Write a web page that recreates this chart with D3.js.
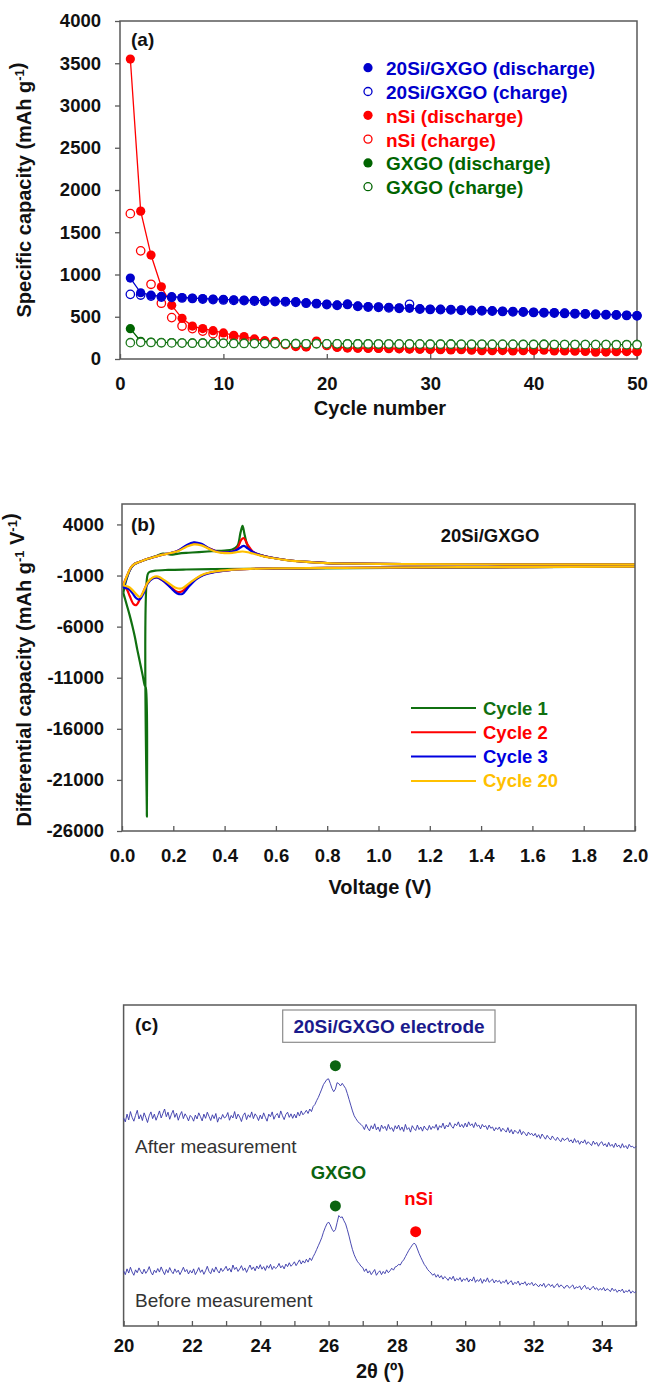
<!DOCTYPE html>
<html>
<head>
<meta charset="utf-8">
<script src="https://cdn.jsdelivr.net/npm/d3@7"></script>
<style>
    body { margin: 0; background: #fff; }
    svg { display: block; }
</style>
</head>
<body>
<svg id="fig"></svg>
<script>
// ---------- panel (a): capacity vs cycle ----------
const cycleNumbers = [1,2,3,4,5,6,7,8,9,10,11,12,13,14,15,16,17,18,19,20,21,22,23,24,25,
    26,27,28,29,30,31,32,33,34,35,36,37,38,39,40,41,42,43,44,45,46,47,48,49,50];
const siGxgoDischarge = [958,784,755,740,738,728,722,715,710,706,700,697,694,690,686,683,678,667,660,650,
    640,652,628,620,618,611,605,600,596,592,590,587,582,578,575,572,568,564,560,556,
    552,549,545,541,537,532,528,524,520,515];
const siGxgoCharge = [765,757,745,733,730,722,716,709,703,698,693,690,686,683,679,676,671,660,654,644,
    634,645,622,614,612,605,600,648,590,586,584,581,576,572,569,566,562,558,554,550,
    546,543,539,535,531,527,523,519,515,511];
const nSiDischarge = [3550,1750,1230,855,635,481,390,360,335,308,280,265,237,217,205,178,158,142,213,170,
    140,130,128,126,125,122,120,118,116,112,110,108,110,105,98,98,100,96,98,100,
    104,96,95,92,90,80,82,86,88,86];
const nSiCharge = [1720,1280,884,660,490,390,360,330,300,257,264,233,225,205,205,170,150,148,200,160,
    140,135,132,130,130,128,125,122,120,120,118,116,118,115,112,110,112,108,110,112,
    158,108,105,104,102,100,98,100,98,96];
const gxgoDischarge = [359,210,200,196,194,192,190,191,188,189,186,187,185,185,184,183,184,182,183,181,
    181,180,181,180,179,179,178,179,178,177,177,178,176,176,177,175,175,176,174,174,
    175,173,173,174,172,172,173,171,171,172];
const gxgoCharge = [193,197,195,192,190,188,187,187,185,185,184,184,183,182,182,181,181,180,180,179,
    179,178,178,178,177,177,176,176,176,175,175,175,174,174,174,173,173,173,172,172,
    172,171,171,171,170,170,170,169,169,169];
const capacityTicks = [0,500,1000,1500,2000,2500,3000,3500,4000];
const cycleTicks = [0,10,20,30,40,50];
const capacityLegend = ['20Si/GXGO (discharge)', '20Si/GXGO (charge)', 'nSi (discharge)',
    'nSi (charge)', 'GXGO (discharge)', 'GXGO (charge)'];

// ---------- panel (b): dQ/dV, [voltage, value] ----------
const cycle1Discharge = [[2.0,-120],[1.6,-180],[1.2,-230],[0.9,-280],[0.7,-320],[0.5,-350],[0.35,-380],
    [0.25,-410],[0.18,-450],[0.13,-520],[0.108,-640],[0.1,-900],[0.097,-24600],[0.093,-12000],
    [0.088,-11700],[0.08,-10700],[0.07,-9500],[0.06,-8300],[0.05,-7000],[0.04,-5900],[0.03,-4900],
    [0.02,-4000],[0.012,-3300],[0.005,-2700]];
const cycle1Charge = [[0.005,-2700],[0.015,-1600],[0.03,-500],[0.045,50],[0.07,350],[0.1,620],[0.13,880],
    [0.16,1150],[0.19,1050],[0.22,1150],[0.26,1230],[0.3,1300],[0.35,1380],[0.4,1450],[0.43,1550],
    [0.45,1900],[0.462,3200],[0.47,3850],[0.478,3000],[0.49,1900],[0.51,1300],[0.54,1000],[0.58,760],
    [0.64,520],[0.72,330],[0.8,220],[0.9,160],[1.1,120],[1.5,100],[2.0,90]];
const cycle2Discharge = [[2.0,-120],[1.5,-170],[1.0,-220],[0.8,-260],[0.6,-300],[0.5,-360],[0.42,-470],
    [0.36,-650],[0.32,-900],[0.29,-1300],[0.26,-1950],[0.235,-2550],[0.215,-2600],[0.19,-2150],
    [0.165,-1600],[0.14,-1200],[0.12,-1250],[0.1,-1700],[0.085,-2500],[0.07,-3300],[0.055,-3900],
    [0.045,-3800],[0.03,-3000],[0.018,-2300],[0.005,-1900]];
const cycle2Charge = [[0.005,-1900],[0.02,-1000],[0.035,-200],[0.05,150],[0.075,400],[0.1,640],[0.13,850],
    [0.16,1050],[0.19,1200],[0.22,1450],[0.25,1900],[0.28,2200],[0.31,2050],[0.34,1650],[0.37,1350],
    [0.4,1250],[0.43,1350],[0.45,1700],[0.465,2500],[0.475,2650],[0.49,2000],[0.51,1350],[0.54,1000],
    [0.58,760],[0.64,520],[0.72,330],[0.8,220],[0.9,160],[1.1,120],[1.5,100],[2.0,90]];
const cycle3Discharge = [[2.0,-120],[1.5,-170],[1.0,-220],[0.8,-260],[0.6,-300],[0.5,-360],[0.42,-470],
    [0.36,-660],[0.32,-920],[0.29,-1350],[0.26,-2100],[0.235,-2800],[0.215,-2750],[0.19,-2200],
    [0.165,-1600],[0.14,-1200],[0.12,-1300],[0.1,-1800],[0.085,-2700],[0.068,-3350],[0.055,-3200],
    [0.04,-2700],[0.025,-2300],[0.01,-2200],[0.005,-2200]];
const cycle3Charge = [[0.005,-2200],[0.02,-1100],[0.035,-250],[0.05,150],[0.075,400],[0.1,640],[0.13,850],
    [0.16,1050],[0.19,1200],[0.22,1450],[0.25,1950],[0.28,2250],[0.31,2100],[0.34,1650],[0.37,1350],
    [0.4,1250],[0.43,1350],[0.45,1550],[0.465,1800],[0.475,1900],[0.49,1650],[0.51,1300],[0.54,1000],
    [0.58,760],[0.64,520],[0.72,330],[0.8,220],[0.9,160],[1.1,120],[1.5,100],[2.0,90]];
const cycle20Discharge = [[2.0,-120],[1.5,-170],[1.0,-220],[0.8,-260],[0.6,-300],[0.5,-350],[0.42,-450],
    [0.36,-620],[0.32,-850],[0.29,-1250],[0.26,-1800],[0.235,-2250],[0.215,-2250],[0.19,-1900],
    [0.165,-1450],[0.14,-1100],[0.12,-1200],[0.1,-1700],[0.085,-2500],[0.07,-3100],[0.058,-2900],
    [0.04,-2400],[0.025,-2100],[0.01,-2000],[0.005,-2000]];
const cycle20Charge = [[0.005,-2000],[0.02,-1000],[0.035,-200],[0.05,150],[0.075,400],[0.1,640],[0.13,850],
    [0.16,1050],[0.19,1200],[0.22,1400],[0.25,1800],[0.28,2050],[0.31,1950],[0.34,1600],[0.37,1300],
    [0.4,1200],[0.43,1220],[0.45,1300],[0.47,1350],[0.49,1280],[0.51,1150],[0.54,950],
    [0.58,740],[0.64,510],[0.72,330],[0.8,220],[0.9,160],[1.1,120],[1.5,100],[2.0,90]];
const voltageTicks = [0.0,0.2,0.4,0.6,0.8,1.0,1.2,1.4,1.6,1.8,2.0];
const dqdvTicks = [-26000,-21000,-16000,-11000,-6000,-1000,4000];
const cycleLegend = ['Cycle 1', 'Cycle 2', 'Cycle 3', 'Cycle 20'];

// ---------- panel (c): XRD, 2theta 20.00 .. 35.00 step 0.05 (one row per degree) ----------
const twoThetaStart = 20.0;
const twoThetaStep = 0.05;
const xrdAfter = [
    648,636,660,642,668,650,638,656,672,645,658,640,664,650,634,655,667,646,660,641,
    655,670,648,662,676,652,666,644,660,672,650,663,641,657,668,646,661,652,639,656,
    650,638,657,645,664,652,639,660,647,666,653,640,658,646,662,635,650,644,659,648,
    652,665,641,656,648,668,645,660,651,637,656,664,643,658,650,667,646,661,653,640,
    657,645,664,650,638,660,652,667,644,656,662,648,670,655,643,659,666,650,661,647,
    660,648,666,654,670,658,664,672,662,676,668,684,690,702,712,725,738,752,760,768,
    770,756,740,730,738,758,755,748,756,748,740,724,706,688,670,655,646,638,632,628,
    622,612,628,616,608,624,614,630,611,620,606,626,615,622,609,628,613,618,606,624,
    614,626,610,620,606,628,612,618,604,624,615,609,626,612,620,607,623,614,610,625,
    612,622,616,628,610,624,618,632,614,626,620,634,622,616,630,624,636,620,628,618,
    632,620,636,624,630,618,634,622,626,614,628,620,624,612,626,616,620,608,618,612,
    620,606,616,610,604,618,602,612,598,610,604,600,612,596,606,600,592,604,596,600,
    592,600,588,596,584,598,590,582,594,586,580,592,584,578,588,580,574,586,578,582,
    586,574,580,570,584,572,578,566,576,570,580,566,574,568,562,576,566,572,560,570,
    574,562,568,558,572,560,566,556,570,558,564,554,568,556,562,552,566,558,560,554,
    560];
const xrdBefore = [
    172,160,178,165,183,168,158,175,166,181,170,162,177,164,172,185,168,159,174,166,
    179,168,184,171,160,176,166,182,170,163,178,167,174,160,171,183,169,176,162,173,
    165,178,160,170,182,167,175,161,172,186,170,163,179,168,184,172,165,180,170,177,
    186,172,180,168,190,176,183,170,178,188,173,181,167,179,190,176,184,172,187,178,
    191,177,185,173,188,180,192,176,186,179,184,195,181,188,178,193,185,197,186,192,
    200,188,197,206,193,203,196,208,199,212,204,216,226,238,250,262,275,292,306,318,
    324,315,302,294,300,322,344,338,340,328,318,300,280,258,238,222,210,200,194,186,
    182,170,178,165,172,160,168,176,158,166,172,160,170,163,175,166,172,180,174,184,
    186,192,190,200,206,216,226,236,244,252,258,254,240,226,214,203,192,185,176,170,
    165,158,163,152,160,150,157,146,154,149,142,152,145,155,140,148,143,151,138,147,
    142,150,137,146,140,153,136,144,139,148,133,145,138,150,136,141,146,134,143,137,
    142,132,139,135,144,130,137,141,128,136,132,140,127,134,131,138,126,133,129,136,
    125,132,128,122,130,124,133,120,127,131,123,129,119,126,132,121,128,124,117,125,
    126,118,123,128,115,122,119,125,113,121,127,116,120,112,118,124,114,119,111,117,
    112,120,109,116,113,107,118,110,114,105,112,108,115,103,110,106,113,102,109,104,
    107];
const twoThetaTicks = [20,21,22,23,24,25,26,27,28,29,30,31,32,33,34,35];
const twoThetaLabels = [20,22,24,26,28,30,32,34];
const xrdPeaks = [
    { label: '', pos: 26.2, level: 811, color: '#0b6410' },
    { label: 'GXGO', pos: 26.2, level: 374, color: '#0b6410' },
    { label: 'nSi', pos: 28.55, level: 294, color: '#ff0000' }
];

(function () {
    const FONT = '"Liberation Sans", Arial, sans-serif';
    const AXIS = '#595959';

    const svg = d3.select('#fig')
        .attr('width', 652)
        .attr('height', 1386);

    svg.append('rect')
        .attr('width', 652)
        .attr('height', 1386)
        .attr('fill', '#fff');

    function styleAxis(g) {
        g.select('.domain').remove();
        g.selectAll('.tick line')
            .attr('stroke', AXIS)
            .attr('stroke-width', 1.3);
        g.selectAll('.tick text')
            .attr('font-family', FONT)
            .attr('font-weight', 'bold')
            .attr('font-size', 18.5)
            .attr('fill', '#111');
    }

    function drawBox(x, y) {
        svg.append('rect')
            .attr('x', x.range()[0])
            .attr('y', y.range()[1])
            .attr('width', x.range()[1] - x.range()[0])
            .attr('height', y.range()[0] - y.range()[1])
            .attr('fill', 'none')
            .attr('stroke', AXIS)
            .attr('stroke-width', 1.5);
    }

    function addText(x, y, txt, opts) {
        return svg.append('text')
            .attr('x', x)
            .attr('y', y)
            .attr('font-family', FONT)
            .attr('font-weight', opts.weight || 'bold')
            .attr('font-size', opts.size || 18)
            .attr('fill', opts.color || '#111')
            .attr('text-anchor', opts.anchor || 'start')
            .text(txt);
    }

    function rotatedTitle(x, y, parts) {
        const t = svg.append('text')
            .attr('transform', `translate(${x},${y}) rotate(-90)`)
            .attr('text-anchor', 'middle')
            .attr('font-family', FONT)
            .attr('font-weight', 'bold')
            .attr('font-size', 20)
            .attr('fill', '#111');
        parts.forEach(p => {
            if (p.sup) {
                t.append('tspan').attr('dy', -7).attr('font-size', 13).text(p.sup);
                t.append('tspan').attr('dy', 7).text('');
            } else {
                t.append('tspan').text(p.text);
            }
        });
    }

    // ================= panel (a) =================
    function drawPanelA() {
        const x = d3.scaleLinear().domain([0, 50]).range([120, 637]);
        const y = d3.scaleLinear().domain([0, 4000]).range([359, 21]);

        svg.append('g')
            .attr('transform', 'translate(0,359)')
            .call(d3.axisBottom(x).tickValues(cycleTicks).tickFormat(d => String(d))
                .tickSizeInner(-5).tickSizeOuter(0).tickPadding(18))
            .call(styleAxis);
        svg.append('g')
            .attr('transform', 'translate(120,0)')
            .call(d3.axisLeft(y).tickValues(capacityTicks).tickFormat(d => String(d))
                .tickSizeInner(5).tickSizeOuter(0).tickPadding(14))
            .call(styleAxis);
        drawBox(x, y);

        const series = [
            { values: nSiCharge, color: '#ff0000', open: true },
            { values: nSiDischarge, color: '#ff0000', open: false, line: true },
            { values: gxgoDischarge, color: '#006400', open: false, line: true },
            { values: gxgoCharge, color: '#1e7a1e', open: true },
            { values: siGxgoCharge, color: '#0000cc', open: true },
            { values: siGxgoDischarge, color: '#0000cc', open: false, line: true }
        ];

        const line = d3.line()
            .x((d, i) => x(cycleNumbers[i]))
            .y(d => y(d));

        series.filter(s => s.line).forEach(s => {
            svg.append('path')
                .datum(s.values)
                .attr('d', line)
                .attr('fill', 'none')
                .attr('stroke', s.color)
                .attr('stroke-width', 1.3);
        });

        series.forEach(s => {
            svg.append('g')
                .selectAll('circle')
                .data(s.values)
                .join('circle')
                .attr('cx', (d, i) => x(cycleNumbers[i]))
                .attr('cy', d => y(d))
                .attr('r', s.open ? 4.2 : 4.6)
                .attr('fill', s.open ? '#fff' : s.color)
                .attr('stroke', s.color)
                .attr('stroke-width', s.open ? 1.3 : 0);
        });

        const legendColors = ['#0000cc', '#0000cc', '#ff0000', '#ff0000', '#006400', '#006400'];
        capacityLegend.forEach((name, i) => {
            const cy = 67.7 + i * 23.8;
            const open = i % 2 === 1;
            svg.append('circle')
                .attr('cx', 368)
                .attr('cy', cy)
                .attr('r', open ? 4 : 4.6)
                .attr('fill', open ? '#fff' : legendColors[i])
                .attr('stroke', legendColors[i])
                .attr('stroke-width', open ? 1.3 : 0);
            addText(386, cy + 7.5, name, { color: legendColors[i], size: 19 });
        });

        addText(131, 46, '(a)', { size: 19 });
        addText(380, 415, 'Cycle number', { size: 20, anchor: 'middle' });
        rotatedTitle(31, 190, [{ text: 'Specific capacity (mAh g' }, { sup: '-1' }, { text: ')' }]);
    }

    // ================= panel (b) =================
    function drawPanelB() {
        const x = d3.scaleLinear().domain([0, 2]).range([122, 635]);
        const y = d3.scaleLinear().domain([-26000, 6000]).range([831, 504]);

        svg.append('g')
            .attr('transform', 'translate(0,831)')
            .call(d3.axisBottom(x).tickValues(voltageTicks).tickFormat(d => d.toFixed(1))
                .tickSizeInner(-5).tickSizeOuter(0).tickPadding(18))
            .call(styleAxis);
        svg.append('g')
            .attr('transform', 'translate(122,0)')
            .call(d3.axisLeft(y).tickValues(dqdvTicks).tickFormat(d => String(d))
                .tickSizeInner(5).tickSizeOuter(0).tickPadding(13))
            .call(styleAxis);

        svg.append('clipPath')
            .attr('id', 'clipB')
            .append('rect')
            .attr('x', 122).attr('y', 504).attr('width', 513).attr('height', 327);

        const line = d3.line()
            .x(d => x(d[0]))
            .y(d => y(d[1]))
            .curve(d3.curveCatmullRom.alpha(0.5));

        const cycles = [
            { color: '#107010', parts: [cycle1Discharge, cycle1Charge] },
            { color: '#ff0000', parts: [cycle2Discharge, cycle2Charge] },
            { color: '#0000e0', parts: [cycle3Discharge, cycle3Charge] },
            { color: '#ffc000', parts: [cycle20Discharge, cycle20Charge] }
        ];

        const plot = svg.append('g').attr('clip-path', 'url(#clipB)');
        cycles.forEach(c => {
            c.parts.forEach(p => {
                plot.append('path')
                    .datum(p)
                    .attr('d', line)
                    .attr('fill', 'none')
                    .attr('stroke', c.color)
                    .attr('stroke-width', 2.2)
                    .attr('stroke-linejoin', 'round');
            });
        });
        drawBox(x, y);

        cycleLegend.forEach((name, i) => {
            const ly = 708 + i * 24.3;
            svg.append('line')
                .attr('x1', 411).attr('x2', 476)
                .attr('y1', ly).attr('y2', ly)
                .attr('stroke', cycles[i].color)
                .attr('stroke-width', 2);
            addText(483, ly + 6.5, name, { color: cycles[i].color, size: 18.5 });
        });

        addText(131, 531, '(b)', { size: 19 });
        addText(490, 542, '20Si/GXGO', { size: 18.5, anchor: 'middle' });
        addText(380, 894, 'Voltage (V)', { size: 20, anchor: 'middle' });
        rotatedTitle(31, 670, [{ text: 'Differential capacity (mAh g' }, { sup: '-1' },
            { text: ' V' }, { sup: '-1' }, { text: ')' }]);
    }

    // ================= panel (c) =================
    function drawPanelC() {
        const x = d3.scaleLinear().domain([20, 35]).range([123.6, 636]);
        const y = d3.scaleLinear().domain([0, 1000]).range([1326, 1005]);

        svg.append('g')
            .attr('transform', 'translate(0,1326)')
            .call(d3.axisBottom(x).tickValues(twoThetaTicks)
                .tickFormat(d => twoThetaLabels.includes(d) ? String(d) : '')
                .tickSizeInner(-5).tickSizeOuter(0).tickPadding(13))
            .call(styleAxis);
        drawBox(x, y);

        const line = d3.line()
            .x((d, i) => x(twoThetaStart + i * twoThetaStep))
            .y(d => y(d));

        [xrdAfter, xrdBefore].forEach(arr => {
            svg.append('path')
                .datum(arr)
                .attr('d', line)
                .attr('fill', 'none')
                .attr('stroke', '#3535a8')
                .attr('stroke-width', 0.9);
        });

        xrdPeaks.forEach(p => {
            svg.append('circle')
                .attr('cx', x(p.pos))
                .attr('cy', y(p.level))
                .attr('r', 5.5)
                .attr('fill', p.color);
            if (p.label) {
                addText(x(p.pos) + 3, y(p.level) - 27, p.label, { color: p.color, size: 18.5, anchor: 'middle' });
            }
        });

        svg.append('rect')
            .attr('x', 282.7).attr('y', 1010)
            .attr('width', 212.3).attr('height', 32.3)
            .attr('fill', '#fff')
            .attr('stroke', '#8c8c8c')
            .attr('stroke-width', 1.2);
        addText(389, 1033, '20Si/GXGO electrode', { size: 19, color: '#1a1a8c', anchor: 'middle' });

        addText(135, 1153, 'After measurement', { size: 19, weight: 'normal', color: '#333' });
        addText(135, 1307, 'Before measurement', { size: 19, weight: 'normal', color: '#333' });
        addText(135, 1031, '(c)', { size: 19 });
        addText(380, 1378, '2θ (º)', { size: 20, anchor: 'middle' });
    }

    drawPanelA();
    drawPanelB();
    drawPanelC();
})();
</script>
</body>
</html>
